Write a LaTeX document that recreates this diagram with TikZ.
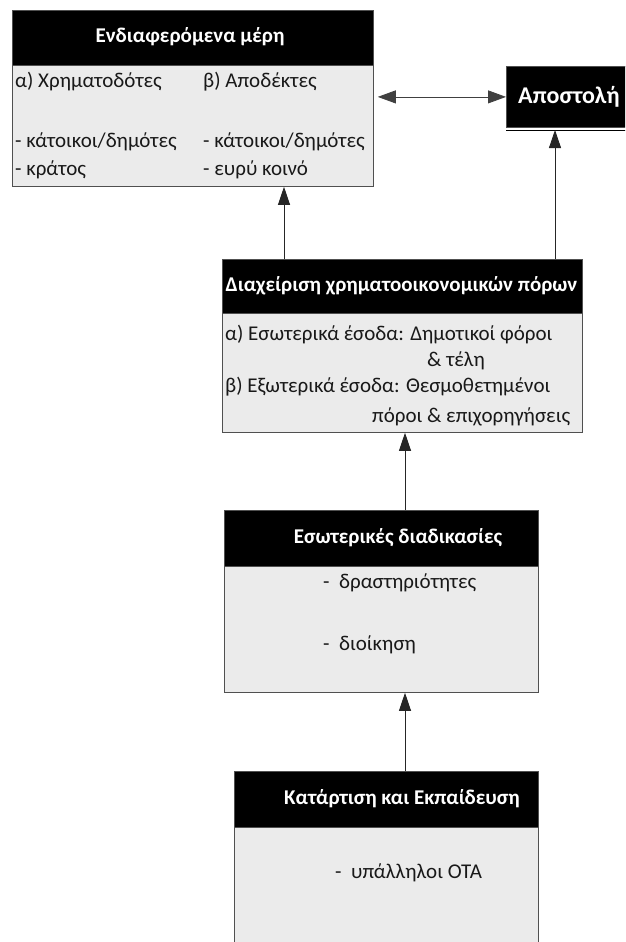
\documentclass[tikz,border=0pt]{standalone}
\usepackage{fontspec}
\setmainfont{Carlito}
\usetikzlibrary{arrows.meta,calc}
\definecolor{bodygray}{HTML}{EBEBEB}
\definecolor{edgegray}{HTML}{505050}
\tikzset{
  hdr/.style={draw=edgegray, line width=0.8pt, fill=black, anchor=north west, inner sep=0pt, rectangle},
  bodybox/.style={draw=edgegray, line width=0.8pt, fill=bodygray, anchor=north west, inner sep=0pt, rectangle},
  htxt/.style={text=white, font=\fontsize{21}{24}\selectfont\bfseries, inner sep=0pt},
  btxt/.style={text=black!90, font=\fontsize{21}{24}\selectfont, inner sep=0pt, anchor=west},
  arr/.style={draw=black!85, line width=0.8pt, -{Triangle[length=18pt,width=12pt]}},
  dblarr/.style={draw=black!75, line width=0.8pt, {Triangle[length=18pt,width=13pt]}-{Triangle[length=18pt,width=13pt]}}
}
\begin{document}
\begin{tikzpicture}[x=1pt,y=-1pt]
\useasboundingbox (0,0) rectangle (625,942);
\clip (0,0) rectangle (625,942);
% Box 1
\node[hdr, minimum width=361pt, minimum height=55pt] (h1) at (12,10) {};
\node[bodybox, minimum width=361pt, minimum height=121pt] (b1) at (12,65) {};
\node[htxt] (h1t) at (190,37) {Ενδιαφερόμενα μέρη};
\node[btxt] (t11) at (15,82) {α) Χρηματοδότες};
\node[btxt] (t12) at (203,82) {β) Αποδέκτες};
\node[btxt] (t13) at (15,142) {- κάτοικοι/δημότες};
\node[btxt] (t14) at (203,142) {- κάτοικοι/δημότες};
\node[btxt] (t15) at (15,170) {- κράτος};
\node[btxt] (t16) at (203,170) {- ευρύ κοινό};
% Apostoli
\node[hdr, minimum width=125pt, minimum height=61pt] (ap) at (506,66) {};
\node[htxt, anchor=west, font=\fontsize{24}{28}\selectfont\bfseries] (apt) at (518,97) {Αποστολή};
\coordinate (apl1) at (506,130);
\coordinate (apl2) at (630,130);
\draw[black, line width=1pt] (apl1) -- (apl2);
% Box 2
\node[hdr, minimum width=360pt, minimum height=54pt] (h2) at (222,259) {};
\node[bodybox, minimum width=360pt, minimum height=119pt] (b2) at (222,313) {};
\node[htxt, font=\fontsize{21}{24}\selectfont\bfseries] (h2t) at (401.5,286) {Διαχείριση χρηματοοικονομικών πόρων};
\node[btxt] (t21) at (225,335) {α) Εσωτερικά έσοδα: Δημοτικοί φόροι};
\node[btxt] (t22) at (427,361) {\& τέλη};
\node[btxt] (t23) at (225,387) {β) Εξωτερικά έσοδα: Θεσμοθετημένοι};
\node[btxt] (t24) at (372,417) {πόροι \& επιχορηγήσεις};
% Box 3
\node[hdr, minimum width=314pt, minimum height=56pt] (h3) at (224,510) {};
\node[bodybox, minimum width=314pt, minimum height=126pt] (b3) at (224,566) {};
\node[htxt] (h3t) at (398,538) {Εσωτερικές διαδικασίες};
\node[btxt] (t31) at (323,583) {-\ \ δραστηριότητες};
\node[btxt] (t32) at (323,645) {-\ \ διοίκηση};
% Box 4
\node[hdr, minimum width=304pt, minimum height=56pt] (h4) at (234,771) {};
\node[bodybox, minimum width=304pt, minimum height=140pt] (b4) at (234,827) {};
\node[htxt] (h4t) at (402,799) {Κατάρτιση και Εκπαίδευση};
\node[btxt] (t41) at (335,873) {-\ \ υπάλληλοι ΟΤΑ};
% connectors
\coordinate (c1) at ($(h2.north west)+(62,0)$);
\draw[arr] (c1) -- (c1 |- b1.south);
\coordinate (c2) at ($(h2.north west)+(333,0)$);
\draw[arr] (c2) -- (c2 |- apl1);
\coordinate (d1) at (b1.east |- ap.west);
\draw[dblarr] ([xshift=4pt]d1) -- (ap.west);
\coordinate (c3) at ($(h3.north west)+(181,0)$);
\draw[arr] (c3) -- (c3 |- b2.south);
\coordinate (c4) at ($(h4.north west)+(171,0)$);
\draw[arr] (c4) -- (c4 |- b3.south);
\end{tikzpicture}
\end{document}
